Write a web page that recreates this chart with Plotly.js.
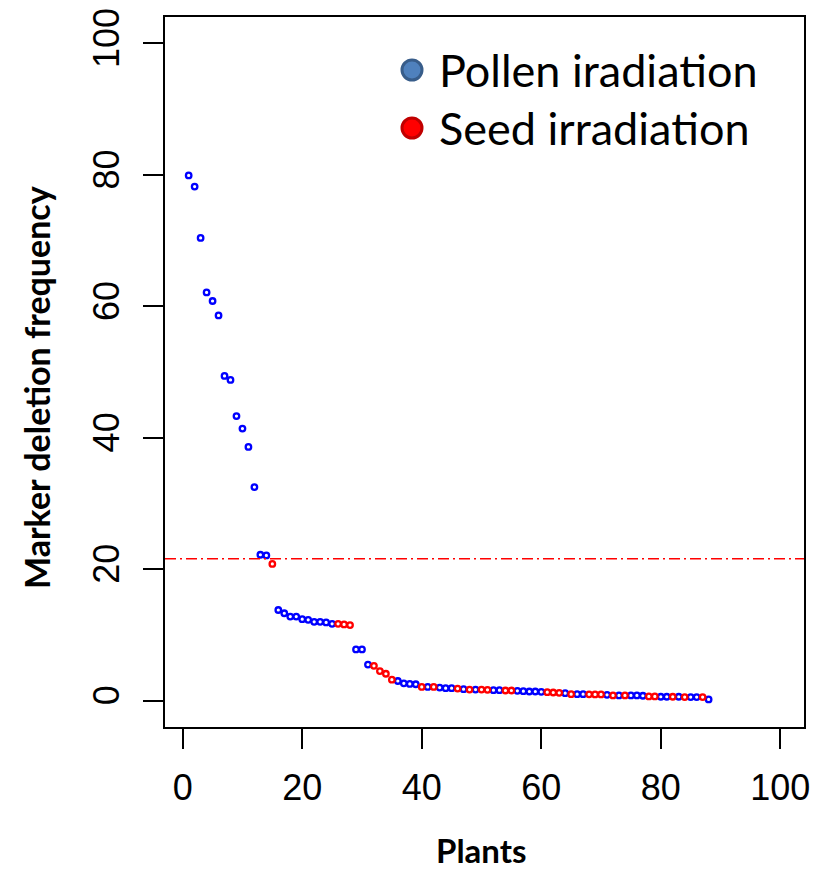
<!DOCTYPE html>
<html>
<head>
<meta charset="utf-8">
<script src="https://cdn.plot.ly/plotly-3.0.1.min.js"></script>
<style>html,body{margin:0;padding:0;background:#fff;}#chart{width:818px;height:871px;}</style>
</head>
<body>
<div id="chart"></div>
<script>
// Plant index (x) and marker deletion frequency (%)
const plant = [1,2,3,4,5,6,7,8,9,10,11,12,13,14,15,16,17,18,19,20,21,22,23,24,25,26,27,28,29,30,31,32,33,34,35,36,37,38,39,40,41,42,43,44,45,46,47,48,49,50,51,52,53,54,55,56,57,58,59,60,61,62,63,64,65,66,67,68,69,70,71,72,73,74,75,76,77,78,79,80,81,82,83,84,85,86,87,88];
const freq = [79.9,78.2,70.4,62.1,60.8,58.6,49.4,48.8,43.3,41.4,38.6,32.5,22.2,22.1,20.8,13.8,13.3,12.8,12.8,12.4,12.3,12.0,12.0,11.9,11.7,11.7,11.6,11.5,7.8,7.8,5.5,5.3,4.5,4.1,3.2,3.0,2.65,2.55,2.5,2.1,2.1,2.1,2.0,1.9,1.9,1.85,1.75,1.7,1.7,1.7,1.65,1.6,1.6,1.55,1.55,1.5,1.45,1.4,1.4,1.35,1.3,1.25,1.2,1.15,1.0,1.0,1.0,0.97,0.95,0.95,0.9,0.8,0.8,0.8,0.8,0.8,0.75,0.65,0.65,0.6,0.6,0.6,0.6,0.55,0.55,0.55,0.55,0.2];
// P = pollen irradiation, S = seed irradiation
const group = ["P","P","P","P","P","P","P","P","P","P","P","P","P","P","S","P","P","P","P","P","P","P","P","P","P","S","S","S","P","P","P","S","S","S","S","P","P","P","P","S","P","S","P","P","P","S","P","S","P","S","S","P","P","S","S","P","P","P","P","P","S","S","S","P","S","P","P","S","S","S","P","S","P","S","P","P","P","S","S","P","P","S","P","S","P","P","S","P"];
const seriesNames = ["Pollen iradiation", "Seed irradiation"];
const seriesKeys = ["P", "S"];
const threshold = [21.6];
const xTicks = [0,20,40,60,80,100];
const yTicks = [0,20,40,60,80,100];

const markerColors = {P: "#0000ff", S: "#ff0000"};
const legendFill = ["#4f81bd", "#ff0000"];
const legendEdge = ["#385d8a", "#c00000"];

const traces = seriesKeys.map((k, i) => {
  const xs = [], ys = [];
  plant.forEach((p, j) => { if (group[j] === k) { xs.push(p); ys.push(freq[j]); } });
  return {
    type: "scatter", mode: "markers", x: xs, y: ys, name: seriesNames[i],
    marker: {symbol: "circle-open", size: 5.5, color: markerColors[k], line: {width: 2.3, color: markerColors[k]}},
    showlegend: false, hoverinfo: "x+y"
  };
});

const W = 818, H = 871;
const L = 165, R = 14, T = 17, B = 144;
const pw = W - L - R, ph = H - T - B;
const px = v => (v - L) / pw;            // pixel x -> paper
const py = v => (H - B - v) / ph;        // pixel y -> paper

const shapes = [{
  type: "line", xref: "paper", yref: "y", x0: 0, x1: 1, y0: threshold[0], y1: threshold[0],
  line: {color: "#ff0000", width: 1.5, dash: "11px,4px,2px,4px"}
}];
const annotations = [];
const legendY = [70, 128];
seriesNames.forEach((n, i) => {
  shapes.push({
    type: "circle", xref: "paper", yref: "paper",
    xsizemode: "pixel", ysizemode: "pixel",
    xanchor: px(412), yanchor: py(legendY[i]),
    x0: -10, x1: 10, y0: -10, y1: 10,
    fillcolor: legendFill[i], line: {color: legendEdge[i], width: 3}
  });
  annotations.push({
    xref: "paper", yref: "paper", x: px(437), y: py(legendY[i]),
    xanchor: "left", yanchor: "middle", showarrow: false, text: n,
    font: {family: "Lato, 'Open Sans', sans-serif", size: 45, color: "#000"}
  });
});
annotations.push({
  xref: "paper", yref: "paper", x: px(36), y: py(388), textangle: -90,
  xanchor: "center", yanchor: "middle", showarrow: false, borderpad: 0,
  text: "<b>Marker deletion frequency</b>",
  font: {family: "Lato, 'Open Sans', sans-serif", size: 34, color: "#000"}
});
annotations.push({
  xref: "paper", yref: "paper", x: px(481), y: py(850),
  xanchor: "center", yanchor: "middle", showarrow: false, borderpad: 0,
  text: "<b>Plants</b>",
  font: {family: "Lato, 'Open Sans', sans-serif", size: 33, color: "#000"}
});

const layout = {
  width: W, height: H,
  margin: {l: L, r: R, t: T, b: B, pad: 0},
  paper_bgcolor: "#fff", plot_bgcolor: "#fff",
  showlegend: false,
  xaxis: {
    range: [-2.96, 103.96], tickvals: xTicks, ticktext: xTicks.map(String),
    showgrid: false, zeroline: false, showline: true, mirror: true, linecolor: "#000", linewidth: 2,
    ticks: "outside", ticklen: 20, tickwidth: 2, tickcolor: "#000",
    ticklabelstandoff: 8,
    tickfont: {family: "'Liberation Sans', Arial, sans-serif", size: 36, color: "#000"}
  },
  yaxis: {
    range: [-4, 104], tickvals: yTicks, ticktext: yTicks.map(String),
    showgrid: false, zeroline: false, showline: true, mirror: true, linecolor: "#000", linewidth: 2,
    ticks: "outside", ticklen: 20, tickwidth: 2, tickcolor: "#000",
    tickangle: -90, ticklabelstandoff: 10,
    tickfont: {family: "'Liberation Sans', Arial, sans-serif", size: 36, color: "#000"}
  },
  shapes: shapes,
  annotations: annotations
};

Plotly.newPlot("chart", traces, layout, {displayModeBar: false, staticPlot: true});
</script>
</body>
</html>
